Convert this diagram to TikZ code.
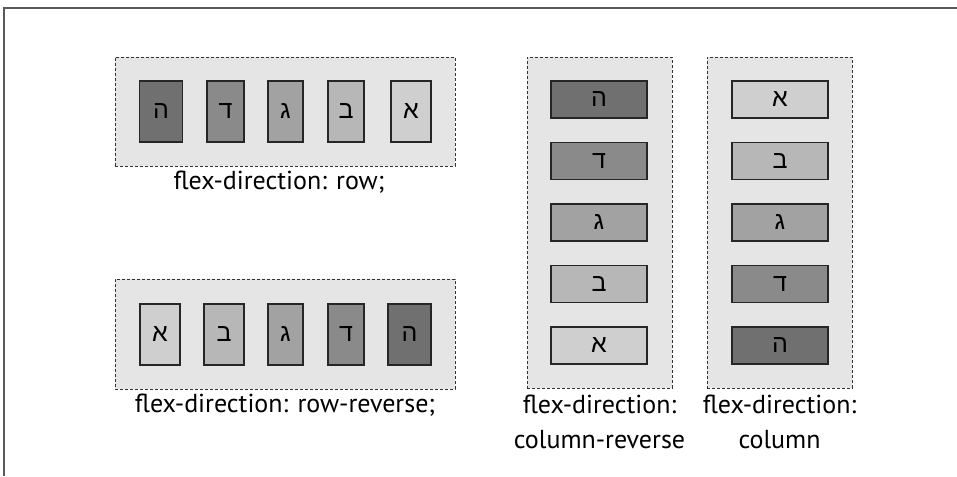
\documentclass[tikz,border=0pt]{standalone}
\usepackage{fontspec}
\setmainfont{PT Sans}
\newfontfamily\hebrewfont[Script=Hebrew]{Liberation Sans}
\usepackage{tikz}
\usetikzlibrary{positioning}
\definecolor{flex-he}{HTML}{707070}
\definecolor{flex-dalet}{HTML}{8A8A8A}
\definecolor{flex-gimel}{HTML}{A2A2A2}
\definecolor{flex-bet}{HTML}{B7B7B7}
\definecolor{flex-alef}{HTML}{CFCFCF}
\definecolor{flex-bg}{HTML}{E5E5E5}
\tikzset{
  flex-frame/.style={draw=black!80, fill=flex-bg, dash pattern=on 3pt off 2pt, line width=0.9pt,
    inner sep=0pt},
  flex-item/.style={draw=black!85, line width=1.2pt, inner sep=0pt,
    font=\hebrewfont\fontsize{25}{25}\selectfont},
  flex-caption/.style={font=\fontsize{26}{35}\selectfont, align=center, inner sep=0pt}
}

\begin{document}
\begin{tikzpicture}[x=1pt, y=-1pt]
  \useasboundingbox (0,0) rectangle (957,476);
  \draw[black!65, line width=1.5pt] (4,476) -- (4,8) -- (957,8);

  \node[flex-frame, minimum width=340pt, minimum height=109pt] (row-box) at (285,111.5) {};
  \node[flex-frame, minimum width=340pt, minimum height=110pt] (rowrev-box) at (285,334) {};
  \node[flex-frame, minimum width=145pt, minimum height=331pt] (colrev-box) at (599.5,222.5) {};
  \node[flex-frame, minimum width=145pt, minimum height=331pt] (col-box) at (779.5,222.5) {};

  \foreach \name/\x/\letter/\shade/\w in {he/161/ה/flex-he/43, dalet/225.5/ד/flex-dalet/37,
      gimel/285.5/ג/flex-gimel/35, bet/346/ב/flex-bet/36, alef/411/א/flex-alef/40}
    \node[flex-item, fill=\shade, minimum width=\w pt, minimum height=61pt] (row-\name) at (\x,111.5) {\letter};

  \foreach \name/\x/\letter/\shade/\w in {alef/160/א/flex-alef/40, bet/224/ב/flex-bet/40,
      gimel/285.5/ג/flex-gimel/35, dalet/346/ד/flex-dalet/36, he/409.5/ה/flex-he/43}
    \node[flex-item, fill=\shade, minimum width=\w pt, minimum height=61pt] (rowrev-\name) at (\x,334.5) {\letter};

  \foreach \name/\y/\letter/\shade in {he/99.5/ה/flex-he, dalet/161/ד/flex-dalet,
      gimel/222.5/ג/flex-gimel, bet/284/ב/flex-bet, alef/345.5/א/flex-alef}
    \node[flex-item, fill=\shade, minimum width=96pt, minimum height=37pt] (colrev-\name) at (599,\y) {\letter};

  \foreach \name/\y/\letter/\shade in {alef/99.5/א/flex-alef, bet/161/ב/flex-bet,
      gimel/222.5/ג/flex-gimel, dalet/284/ד/flex-dalet, he/345.5/ה/flex-he}
    \node[flex-item, fill=\shade, minimum width=96pt, minimum height=37pt] (col-\name) at (780,\y) {\letter};

  \node[flex-caption, below=4pt of row-box, xshift=-6pt] (row-label) {flex-direction: row;};
  \node[flex-caption, below=4pt of rowrev-box] (rowrev-label) {flex-direction: row-reverse;};
  \node[flex-caption, below=6pt of colrev-box] (colrev-label) {flex-direction:\\column-reverse};
  \node[flex-caption, below=6pt of col-box] (col-label) {flex-direction:\\column};
\end{tikzpicture}
\end{document}
